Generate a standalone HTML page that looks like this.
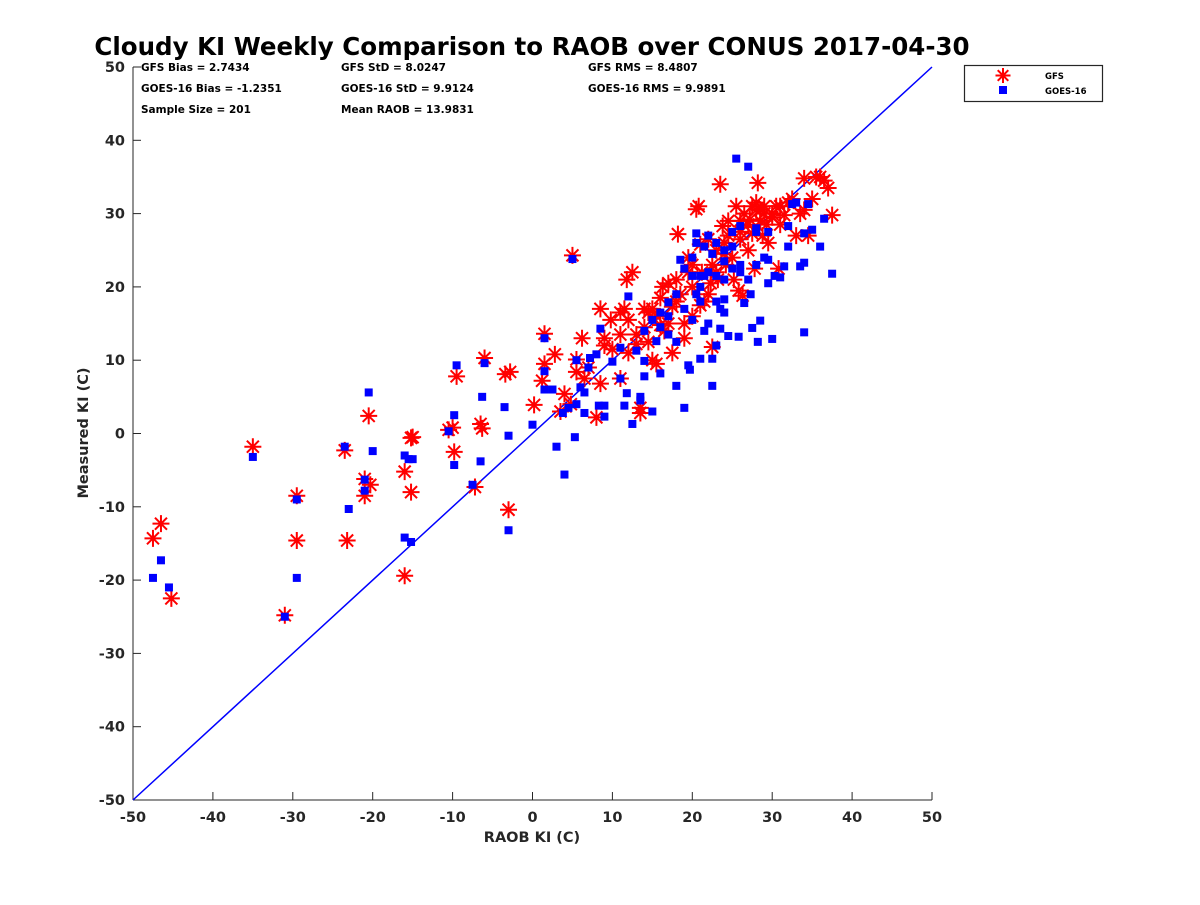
<!DOCTYPE html>
<html><head><meta charset="utf-8"><style>
body{margin:0;background:#fff;}
svg text{font-family:"DejaVu Sans","Liberation Sans",sans-serif;font-weight:bold;fill:#262626;}
</style></head><body>
<svg id="chart" width="1200" height="900" viewBox="0 0 1200 900" xmlns="http://www.w3.org/2000/svg">
<rect width="1200" height="900" fill="#fff"/>
<text x="532" y="55" text-anchor="middle" font-size="24.5" style="fill:#000">Cloudy KI Weekly Comparison to RAOB over CONUS 2017-04-30</text>
<g font-size="10.5">
<text x="141" y="71" style="fill:#000">GFS Bias = 2.7434</text>
<text x="141" y="92" style="fill:#000">GOES-16 Bias = -1.2351</text>
<text x="141" y="113" style="fill:#000">Sample Size = 201</text>
<text x="341" y="71" style="fill:#000">GFS StD = 8.0247</text>
<text x="341" y="92" style="fill:#000">GOES-16 StD = 9.9124</text>
<text x="341" y="113" style="fill:#000">Mean RAOB = 13.9831</text>
<text x="588" y="71" style="fill:#000">GFS RMS = 8.4807</text>
<text x="588" y="92" style="fill:#000">GOES-16 RMS = 9.9891</text>
</g>
<g id="axes"></g>
<g id="marks"></g>
<text x="532" y="842" text-anchor="middle" font-size="14.5">RAOB KI (C)</text>
<text transform="translate(88,433) rotate(-90)" text-anchor="middle" font-size="14.5">Measured KI (C)</text>
<g>
<rect x="964.5" y="65.5" width="138" height="36" fill="#fff" stroke="#262626" stroke-width="1.2"/>
<g stroke="#f00" stroke-width="2">
<line x1="1003" y1="68" x2="1003" y2="83"/><line x1="995.5" y1="75.5" x2="1010.5" y2="75.5"/>
<line x1="997.7" y1="70.2" x2="1008.3" y2="80.8"/><line x1="997.7" y1="80.8" x2="1008.3" y2="70.2"/>
</g>
<rect x="999" y="86" width="8" height="8" fill="#00f"/>
<text x="1045" y="79" font-size="8.5" style="fill:#000">GFS</text>
<text x="1045" y="94" font-size="8.5" style="fill:#000">GOES-16</text>
</g>
</svg>
<script>
const xTicks=[-50,-40,-30,-20,-10,0,10,20,30,40,50];
const yTicks=[-50,-40,-30,-20,-10,0,10,20,30,40,50];
const gfsX=[-47.5,-46.5,-45.2,-35,-31,-29.5,-29.5,-23.5,-23.2,-21,-21,-20.5,-20.3,-16,-16,-15.2,-15,-15.2,-10.5,-10,-9.8,-9.5,-6.5,-6.3,-6,-7.2,-3.4,-2.8,-3,0.2,1.5,1.5,1.2,2.8,3.5,4,5,4.8,5.5,5.5,6.2,6.5,7,8,8.5,8.5,9,9.8,11,11,11,11.5,11.8,12,12.5,13,13.5,13.5,14,14.5,15,15.5,15.5,16,16.3,16.5,17,17.5,17.5,18,18.2,18.5,19,19.5,19.5,20,20,20.5,20.8,21,21.2,21.5,22,22.3,22.5,22.5,23,23.2,23.5,23.8,24,24.2,24.5,25,25.2,25.5,25.8,26,26.3,26.5,27,27.2,27.5,27.8,28,28.2,28.5,28.8,29,29.3,29.5,30,30.5,30.8,31,31.5,32,32.5,33,33.5,34,34,34.5,35,35.5,36,36.5,37,37.5,13,14,15,9,10,12,14.5,16,17,18,19,20,21,22,23,24,26,27,28,29,30,31,26,27.5,28.5,24.5];
const gfsY=[-14.3,-12.3,-22.5,-1.8,-24.8,-8.5,-14.6,-2.3,-14.6,-8.5,-6.2,2.4,-7,-5.2,-19.4,-0.6,-0.5,-8,0.5,0.8,-2.5,7.8,1.3,0.7,10.3,-7.3,8.1,8.4,-10.4,3.9,13.6,9.5,7.2,10.8,3,5.4,24.3,4,8.4,10.1,13,7.5,9,2.2,6.8,17,13,15.5,13.5,16.5,7.5,17,21,15.5,22,12.2,2.8,3.5,17,12.5,10,9.5,16,14.8,20,14,20.5,11,17.3,21,27.2,19,13,22,24,20,23,30.6,31,25.8,22,18,26.5,20.5,11.8,23,25,21,34,28.3,26,23,27,24,21,31,19.5,27.5,18.8,30,25,29.2,31,22.5,31.5,34.2,29,27,31,28.5,26,30,31,22.5,28.5,29.8,31.5,32,27,30,34.8,30.5,27,32,35,35,34.5,33.5,29.8,13.5,14.5,17,12,11.5,11,16.5,18.5,15,18,15,16,17.5,19,22,24.5,26.5,28.5,30.5,30,29.5,31,29,27.3,30.5,29];
const goesX=[-47.5,-46.5,-45.5,-35,-31,-29.5,-29.5,-23.5,-23,-21,-21,-20.5,-20,-16,-16,-15.5,-15,-15.2,-10.5,-9.8,-9.5,-9.8,-6.5,-6.3,-6,-7.5,-3.5,-3,-3,0,1.5,1.5,1.5,2.5,3,3.8,4,4.5,5,5.3,5.5,5.5,6,6.5,6.5,7,7.2,8,8.3,8.5,9,9,10,11,11,11.5,11.8,12,12.5,13,13.5,13.5,14,14,15,15.5,16,16,17,17,18,18,18.5,19,19.5,19.7,20,20.5,20.5,21,21,21,21.5,21.5,22,22.5,22.5,22.5,23,23.5,23.5,24,24,24.5,25,25,25.5,25.8,26,26.5,27,27.3,27.5,28,28.2,28.5,29,29.5,29.5,30,30.3,31,31.5,32,32,32.5,33,33.5,34,34,34,34.5,35,36,36.5,37.5,14,15,16,17,18,19,20,21,22,23,24,25,26,27,28,20.5,21.5,22,23,24,20,19,23,24,28,29.5,26];
const goesY=[-19.7,-17.3,-21,-3.2,-25,-9,-19.7,-1.8,-10.3,-6.3,-7.8,5.6,-2.4,-3,-14.2,-3.5,-3.5,-14.8,0.3,2.5,9.3,-4.3,-3.8,5,9.6,-7,3.6,-0.3,-13.2,1.2,13,8.5,6,6,-1.8,2.8,-5.6,3.5,23.8,-0.5,10,4,6.3,5.6,2.8,9,10.3,10.8,3.8,14.3,2.3,3.8,9.8,11.7,7.5,3.8,5.5,18.7,1.3,11.3,4.5,5,7.8,9.9,3,12.6,14.5,8.2,17.9,13.5,12.5,6.5,23.7,3.5,9.3,8.7,15.5,26,27.3,21.5,18,10.2,14,25.5,15,6.5,10.2,24.5,12,17,14.3,16.5,21,13.3,22.5,27.5,37.5,13.2,23,17.8,36.4,19,14.4,27.5,12.5,15.4,24,20.5,23.7,12.9,21.5,21.3,22.8,28.3,25.5,31.3,31.5,22.8,13.8,23.3,27.3,31.3,27.8,25.5,29.3,21.8,14,15.5,16.5,16,19,17,21.5,20,22,21.5,23.5,25.5,22,21,23,19,21.5,27,26,25,24,22.5,18,18.3,28,27.5,28.3];
const X0=133,X1=932,Y0=800,Y1=67;
const sx=v=>X0+(v+50)/100*(X1-X0);
const sy=v=>Y0-(v+50)/100*(Y0-Y1);
const NS='http://www.w3.org/2000/svg';
function mk(tag,attrs,parent){const e=document.createElementNS(NS,tag);for(const k in attrs)e.setAttribute(k,attrs[k]);parent.appendChild(e);return e;}
const axes=document.getElementById('axes'),marks=document.getElementById('marks');
const xa=mk('line',{x1:X0,y1:Y0,x2:X1,y2:Y0,stroke:'#262626','stroke-width':1},axes);


const ya=mk('line',{x1:X0,y1:Y0,x2:X0,y2:Y1,stroke:'#262626','stroke-width':1},axes);


xTicks.forEach(t=>{const x=sx(t);
mk('line',{x1:x,y1:Y0,x2:x,y2:Y0-8,stroke:'#262626'},axes);
const tx=mk('text',{x:x,y:Y0+22,'text-anchor':'middle','font-size':14.5},axes);tx.textContent=t;

});
yTicks.forEach(t=>{const y=sy(t);
mk('line',{x1:X0,y1:y,x2:X0+8,y2:y,stroke:'#262626'},axes);
const tx=mk('text',{x:X0-8,y:y+5,'text-anchor':'end','font-size':14.5},axes);tx.textContent=t;

});
const ref=mk('line',{x1:sx(-50),y1:sy(-50),x2:sx(50),y2:sy(50),stroke:'#00f','stroke-width':1.5},marks);


const gfsG=mk('g',{stroke:'#f00','stroke-width':2},marks);


const r=8.5,d=r*0.707;
gfsX.forEach((v,i)=>{const x=sx(v),y=sy(gfsY[i]);
const p=mk('path',{d:`M${x} ${y-r}V${y+r}M${x-r} ${y}H${x+r}M${x-d} ${y-d}L${x+d} ${y+d}M${x-d} ${y+d}L${x+d} ${y-d}`,fill:'none'},gfsG);

});
const goesG=mk('g',{fill:'#00f'},marks);


goesX.forEach((v,i)=>{const x=sx(v),y=sy(goesY[i]);
const q=mk('rect',{x:x-4,y:y-4,width:8,height:8},goesG);

});
</script>
</body></html>
